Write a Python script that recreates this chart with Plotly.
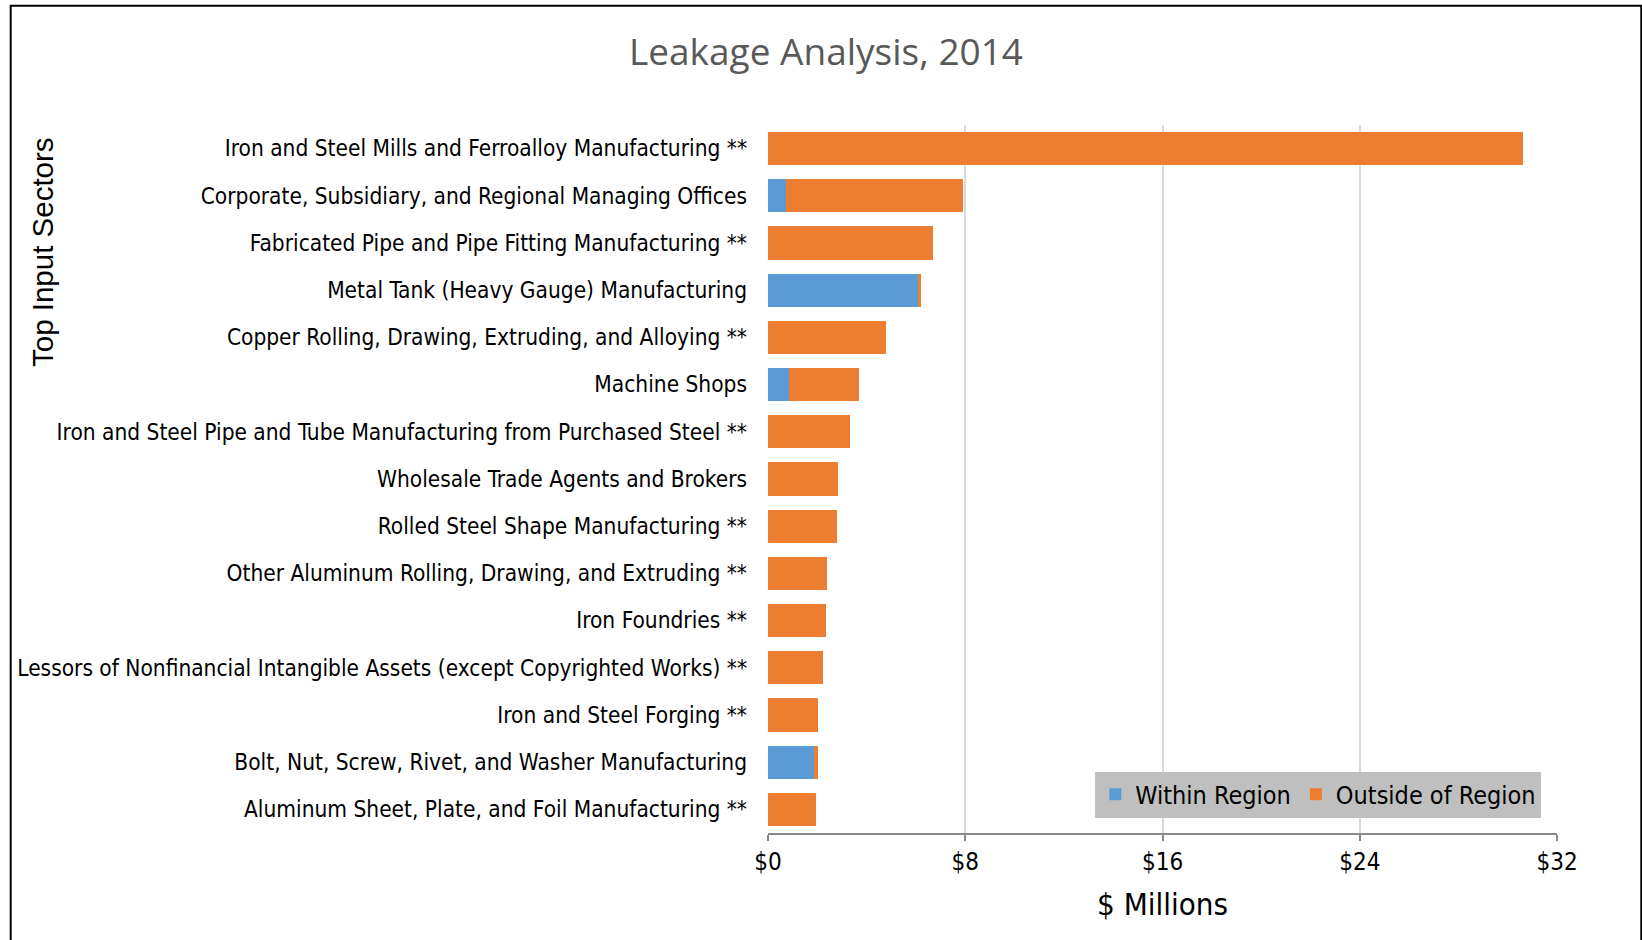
import plotly.graph_objects as go

categories = [
    "Iron and Steel Mills and Ferroalloy Manufacturing **",
    "Corporate, Subsidiary, and Regional Managing Offices",
    "Fabricated Pipe and Pipe Fitting Manufacturing **",
    "Metal Tank (Heavy Gauge) Manufacturing",
    "Copper Rolling, Drawing, Extruding, and Alloying **",
    "Machine Shops",
    "Iron and Steel Pipe and Tube Manufacturing from Purchased Steel **",
    "Wholesale Trade Agents and Brokers",
    "Rolled Steel Shape Manufacturing **",
    "Other Aluminum Rolling, Drawing, and Extruding **",
    "Iron Foundries **",
    "Lessors of Nonfinancial Intangible Assets (except Copyrighted Works) **",
    "Iron and Steel Forging **",
    "Bolt, Nut, Screw, Rivet, and Washer Manufacturing",
    "Aluminum Sheet, Plate, and Foil Manufacturing **",
]
within_region = [0, 0.72, 0, 6.08, 0, 0.87, 0, 0, 0, 0, 0, 0, 0, 1.87, 0]
outside_region = [30.63, 7.18, 6.68, 0.11, 4.80, 2.83, 3.33, 2.84, 2.78, 2.41, 2.35, 2.24, 2.04, 0.16, 1.93]
tick_values = [0, 8, 16, 24, 32]
tick_labels = ["$0", "$8", "$16", "$24", "$32"]

NARROW = "Liberation Sans Narrow, DejaVu Sans Condensed, Arial Narrow, sans-serif"

W, H = 1642, 940
L, R, T, B = 767.5, 1642 - 1556.7, 124.5, 940 - 833.5
PW, PH = W - L - R, H - T - B

fig = go.Figure()
fig.add_trace(go.Bar(y=categories, x=within_region, orientation="h", name="Within Region",
                     marker=dict(color="#5b9bd5", line=dict(width=0))))
fig.add_trace(go.Bar(y=categories, x=outside_region, orientation="h", name="Outside of Region",
                     marker=dict(color="#ed7d31", line=dict(width=0))))

fig.update_layout(
    width=W, height=H,
    barmode="stack", bargap=0.296,
    paper_bgcolor="white", plot_bgcolor="white",
    margin=dict(l=L, r=R, t=T, b=B, pad=0, autoexpand=False),
    font=dict(family=NARROW, size=22, color="#000000"),
    title=dict(text="Leakage Analysis, 2014", x=826 / W, xanchor="center",
               y=1 - 52 / H, yanchor="middle",
               font=dict(family="Open Sans, sans-serif", size=37, color="#595959")),
    xaxis=dict(range=[0, 32], tickvals=tick_values, ticktext=tick_labels,
               showgrid=True, gridcolor="#d9d9d9", gridwidth=1.5,
               showline=True, linecolor="#898989", linewidth=2,
               ticks="outside", ticklen=6, tickcolor="#898989", tickwidth=2,
               tickfont=dict(family=NARROW, size=24, color="#000000"),
               zeroline=False, fixedrange=True, automargin=False,
               title=dict(text="$ Millions", standoff=19,
                          font=dict(family=NARROW, size=31, color="#000000"))),
    yaxis=dict(autorange="reversed", showgrid=False, showline=False, ticks="",
               ticklabelstandoff=20, automargin=False, fixedrange=True,
               tickfont=dict(family=NARROW, size=22.5, color="#000000")),
    legend=dict(orientation="h", x=(1541 - L) / PW, xanchor="right",
                y=(833.5 - 818) / PH, yanchor="bottom",
                bgcolor="#bfbfbf", traceorder="normal",
                font=dict(family=NARROW, size=25, color="#000000"),
                itemwidth=30),
    showlegend=True,
)

fig.add_annotation(text="Top Input Sectors", textangle=-90, xref="paper", yref="paper",
                   x=-(L - 42) / PW, xanchor="center",
                   y=1 + (T - 252) / PH, yanchor="middle", showarrow=False,
                   font=dict(family="Liberation Sans, Arial, sans-serif", size=29.5, color="#000000"))

fig.add_shape(type="rect", xref="paper", yref="paper",
              x0=-(L - 10) / PW, x1=1 + (1641 - 1556.7) / PW,
              y0=-(B + 10) / PH, y1=1 + (T - 5) / PH,
              line=dict(color="#000000", width=2), fillcolor="rgba(0,0,0,0)", layer="below")

fig.write_html("out.html", config={"displayModeBar": False},
               post_script="document.body.style.margin='0';")
